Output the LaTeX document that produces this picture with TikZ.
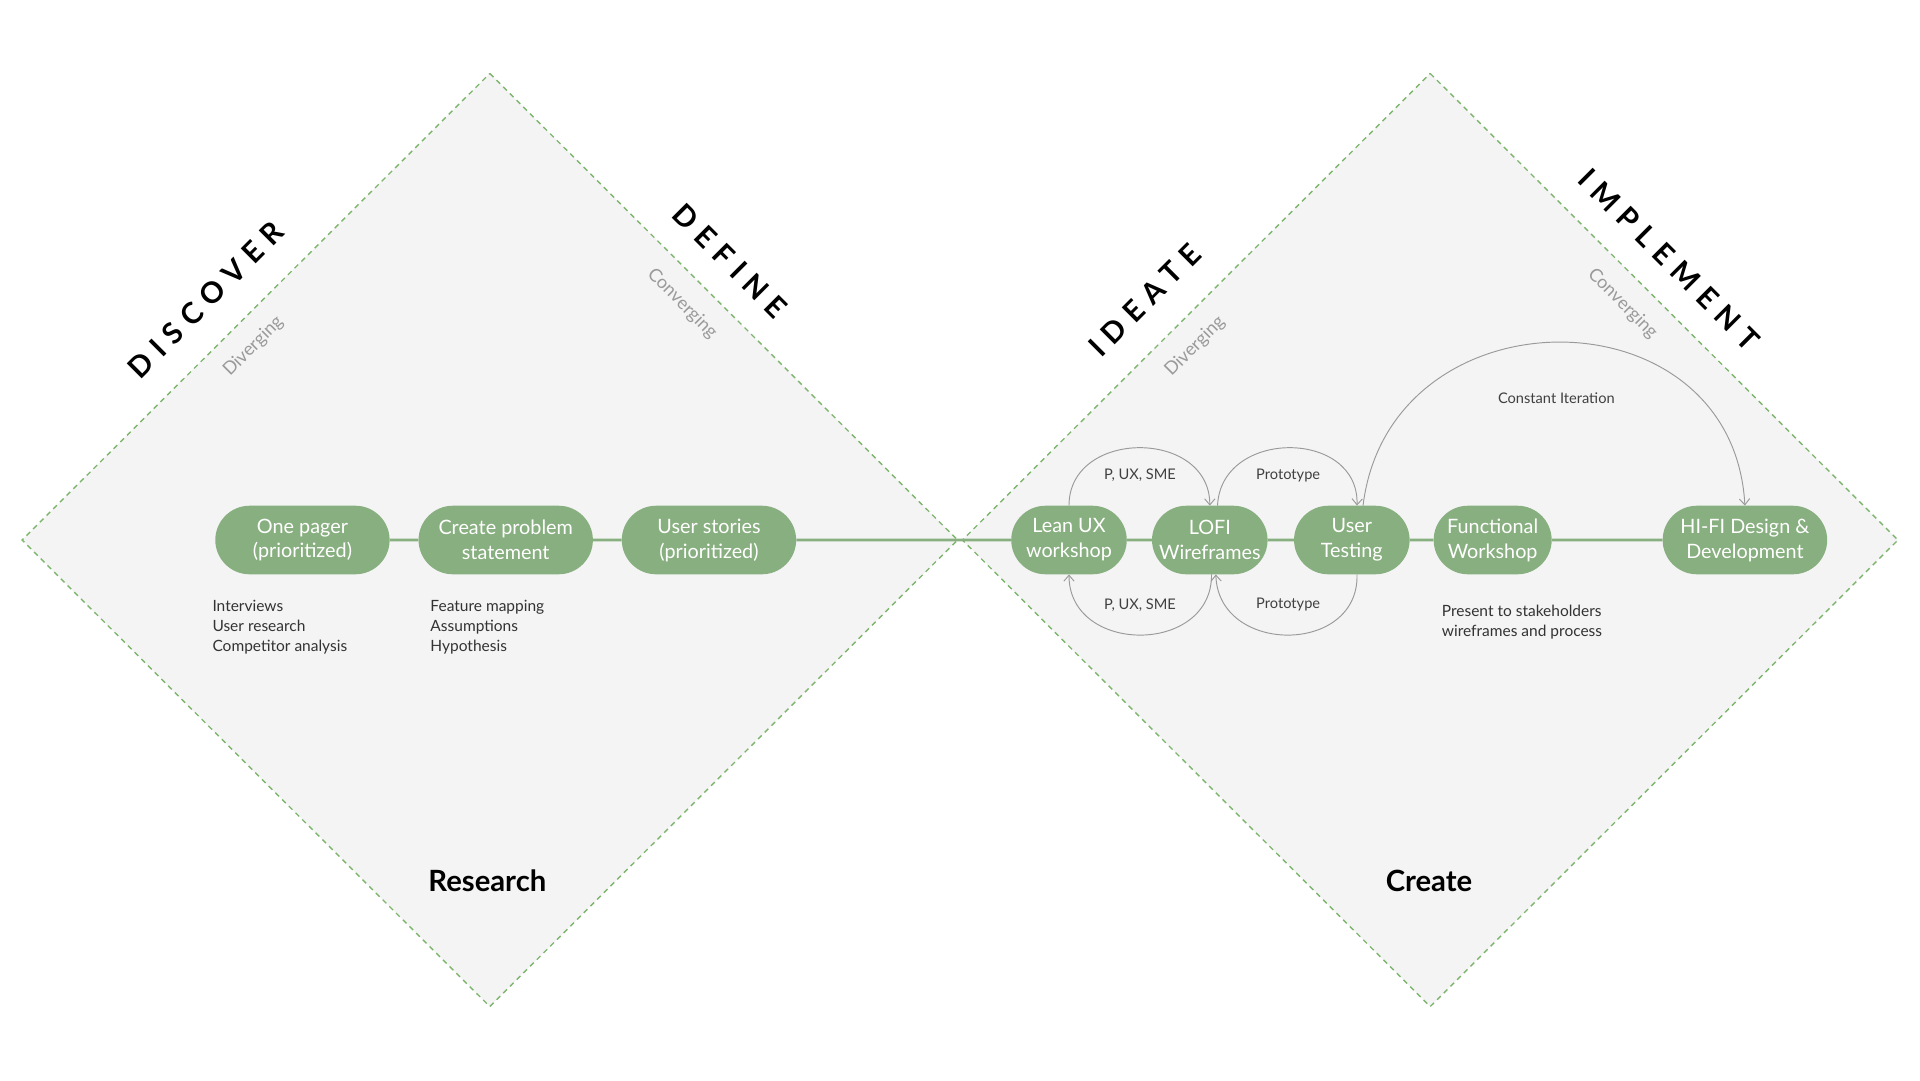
\documentclass[tikz,border=0pt]{standalone}
\usepackage{fontspec}
\setmainfont{Lato}
\newfontfamily\spaced[LetterSpace=30]{Lato}
\usetikzlibrary{arrows.meta,shapes.misc}
\definecolor{leaf}{HTML}{88AF7F}
\definecolor{dash}{HTML}{7DB56D}
\definecolor{paper}{HTML}{F4F4F4}
\definecolor{mute}{HTML}{9A9A9A}
\begin{document}
\begin{tikzpicture}[
   x=0.05cm,y=-0.05cm,
   font=\fontsize{23}{29}\selectfont,
   diamond/.style={fill=paper,draw=dash,line width=1.6pt,dash pattern=on 6pt off 5pt},
   stage/.style={rounded rectangle,fill=leaf,text=white,minimum height=2.8cm,align=center,inner xsep=4pt},
   link/.style={leaf,line width=3.4pt},
   loop/.style={-{Straight Barb[length=7pt,width=12pt]},mute,line width=1.1pt},
   note/.style={align=left,anchor=north west,font=\fontsize{18}{23}\selectfont,text=black!80},
   phase/.style={font=\spaced\fontsize{34}{34}\selectfont\bfseries},
   hint/.style={text=mute,font=\fontsize{21}{22}\selectfont},
   every node/.style={inner sep=2pt}]
\useasboundingbox (0,0) rectangle (1568,882);
% the two diamonds
\draw[diamond] (400,60) -- (782,441) -- (400,822) -- (18,441) -- cycle;
\draw[diamond] (1168,60) -- (1550,441) -- (1168,822) -- (786,441) -- cycle;
\node[phase,rotate=45] (discover) at (168,245) {DISCOVER};
\node[hint,rotate=45] (div1) at (207,283) {Diverging};
\node[phase,rotate=-45] (define) at (596,213) {DEFINE};
\node[hint,rotate=-45] (conv1) at (557,248) {Converging};
\node[phase,rotate=45] (ideate) at (935,245) {IDEATE};
\node[hint,rotate=45] (div2) at (976,283) {Diverging};
\node[phase,rotate=-45] (implement) at (1363,212) {IMPLEMENT};
\node[hint,rotate=-45] (conv2) at (1325,248) {Converging};
\node[font=\fontsize{34}{34}\selectfont\bfseries] (research) at (398,719) {Research};
\node[font=\fontsize{34}{34}\selectfont\bfseries] (create) at (1167,719) {Create};
% stages
\node[stage,minimum width=7.4cm] (pager) at (247,441) {One pager\\(prioritized)};
\node[stage,minimum width=7.4cm] (problem) at (413,441) {Create problem\\statement};
\node[stage,minimum width=7.4cm] (stories) at (579,441) {User stories\\(prioritized)};
\node[stage,minimum width=5cm] (lean) at (873,441) {Lean UX\\workshop};
\node[stage,minimum width=5cm] (lofi) at (988,441) {LOFI\\Wireframes};
\node[stage,minimum width=5cm] (testing) at (1104,441) {User\\Testing};
\node[stage,minimum width=5.1cm] (functional) at (1219,441) {Functional\\Workshop};
\node[stage,minimum width=7cm] (hifi) at (1425,441) {HI-FI Design \&\\Development};
\draw[link] (pager) -- (problem);
\draw[link] (problem) -- (stories);
\draw[link] (stories) -- (lean);
\draw[link] (lean) -- (lofi);
\draw[link] (lofi) -- (testing);
\draw[link] (testing) -- (functional);
\draw[link] (functional) -- (hifi);
% notes
\node[note] (discover notes) at (172,489) {Interviews\\User research\\Competitor analysis};
\node[note] (define notes) at (350,489) {Feature mapping\\Assumptions\\Hypothesis};
\node[note] (present notes) at (1176,493) {Present to stakeholders\\wireframes and process};
% iteration loops
\draw[loop] (lean.north) .. controls (873,350) and (988,350) .. (lofi.north);
\draw[loop] ([xshift=9]lofi.north) .. controls (997,350) and (1110,350) .. ([xshift=6]testing.north);
\draw[loop] ([xshift=2]lofi.south) .. controls (990,535) and (873,535) .. (lean.south);
\draw[loop] ([xshift=6]testing.south) .. controls (1110,535) and (995,535) .. ([xshift=7]lofi.south);
\draw[loop] ([xshift=13]testing.north) .. controls (1135,235) and (1415,235) .. (hifi.north);
\node[font=\fontsize{17}{18}\selectfont,text=black!75] (ux top) at (931,388) {P, UX, SME};
\node[font=\fontsize{17}{18}\selectfont,text=black!75] (proto top) at (1052,388) {Prototype};
\node[font=\fontsize{17}{18}\selectfont,text=black!75] (ux bottom) at (931,494) {P, UX, SME};
\node[font=\fontsize{17}{18}\selectfont,text=black!75] (proto bottom) at (1052,494) {Prototype};
\node[font=\fontsize{17}{18}\selectfont,text=black!75] (iteration) at (1271,325) {Constant Iteration};
\end{tikzpicture}
\end{document}
